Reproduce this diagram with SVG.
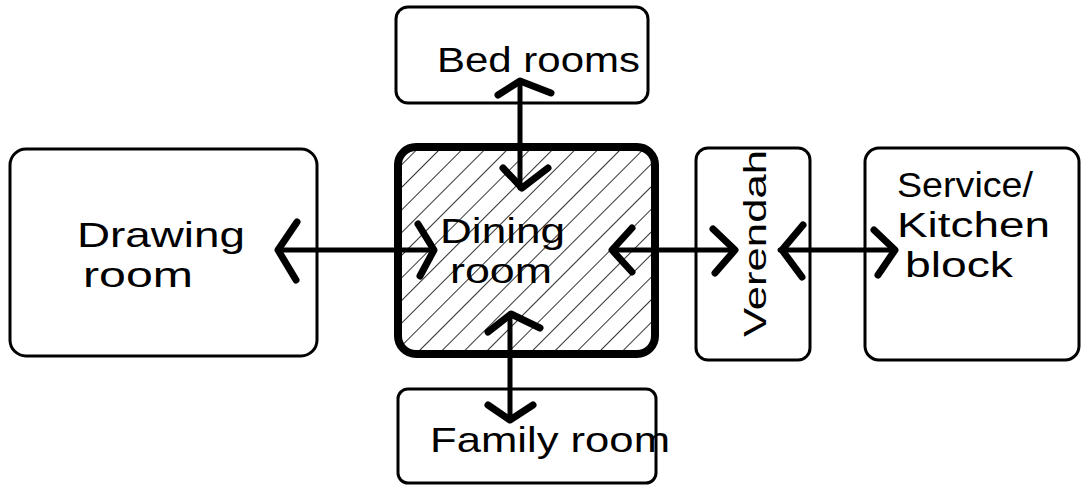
<svg xmlns="http://www.w3.org/2000/svg" width="1087" height="496" viewBox="0 0 1087 496">
<style>
.box{fill:none;stroke:#000;stroke-width:3;stroke-linejoin:round}
.thick{fill:none;stroke:#000;stroke-width:8;stroke-linejoin:round}
.lbl{font-family:"Liberation Sans",Arial,sans-serif;font-size:35px;fill:#000}
.con{stroke:#000;stroke-width:5;fill:none;stroke-linecap:round}
.hd{stroke:#000;stroke-width:7;fill:none;stroke-linecap:round;stroke-linejoin:round}
.hatch{stroke:#000;stroke-width:1.6}
</style>
<defs>
<clipPath id="dclip"><rect x="400" y="149" width="253" height="203" rx="16"/></clipPath>
<pattern id="hp" patternUnits="userSpaceOnUse" width="16" height="16" patternTransform="rotate(45)">
<line x1="0" y1="0" x2="0" y2="16" class="hatch"/>
</pattern>
</defs>
<g id="drawing-room">
<rect class="box" x="10" y="149" width="307" height="207" rx="16"/>
<text class="lbl" x="77" y="247" textLength="168" lengthAdjust="spacingAndGlyphs">Drawing</text>
<text class="lbl" x="83" y="287" textLength="110" lengthAdjust="spacingAndGlyphs">room</text>
</g>
<g id="bed-rooms">
<rect class="box" x="396" y="7" width="252" height="96" rx="12"/>
<text class="lbl" x="437" y="72" textLength="203" lengthAdjust="spacingAndGlyphs">Bed rooms</text>
</g>
<g id="dining-room">
<rect x="400" y="149" width="253" height="203" rx="16" fill="url(#hp)" clip-path="url(#dclip)"/>
<rect class="thick" x="398" y="147" width="257" height="207" rx="18"/>
<text class="lbl" x="440" y="243" textLength="125" lengthAdjust="spacingAndGlyphs">Dining</text>
<text class="lbl" x="450" y="283" textLength="102" lengthAdjust="spacingAndGlyphs">room</text>
</g>
<g id="family-room">
<rect class="box" x="398" y="389" width="258" height="94" rx="10"/>
<text class="lbl" x="430" y="452" textLength="240" lengthAdjust="spacingAndGlyphs">Family room</text>
</g>
<g id="verendah">
<rect class="box" x="696" y="148" width="114" height="212" rx="12"/>
<text class="lbl" transform="translate(766 337) rotate(-90)" style="font-size:32px" textLength="187" lengthAdjust="spacingAndGlyphs">Verendah</text>
</g>
<g id="service-kitchen">
<rect class="box" x="865" y="148" width="214" height="212" rx="14"/>
<text class="lbl" x="897" y="197" textLength="136" lengthAdjust="spacingAndGlyphs">Service/</text>
<text class="lbl" x="897" y="237" textLength="153" lengthAdjust="spacingAndGlyphs">Kitchen</text>
<text class="lbl" x="905" y="277" textLength="108" lengthAdjust="spacingAndGlyphs">block</text>
</g>
<g id="connectors">
<line class="con" x1="278" y1="250" x2="434" y2="250"/>
<polyline class="hd" points="297,222 278,250 296,280"/>
<polyline class="hd" points="418,224 434,250 420,276"/>
<line class="con" x1="520" y1="82" x2="520" y2="188"/>
<polyline class="hd" points="498,95 520,81 551,93"/>
<polyline class="hd" points="503,168 522,188 548,168"/>
<line class="con" x1="510" y1="315" x2="510" y2="420"/>
<polyline class="hd" points="488,332 511,314 540,328"/>
<polyline class="hd" points="488,405 510,420 533,405"/>
<line class="con" x1="612" y1="250" x2="735" y2="250"/>
<polyline class="hd" points="632,228 612,250 632,272"/>
<polyline class="hd" points="713,229 735,250 715,273"/>
<line class="con" x1="780" y1="250" x2="895" y2="250"/>
<polyline class="hd" points="803,225 782,250 802,277"/>
<polyline class="hd" points="874,230 895,250 878,275"/>
</g>
</svg>
